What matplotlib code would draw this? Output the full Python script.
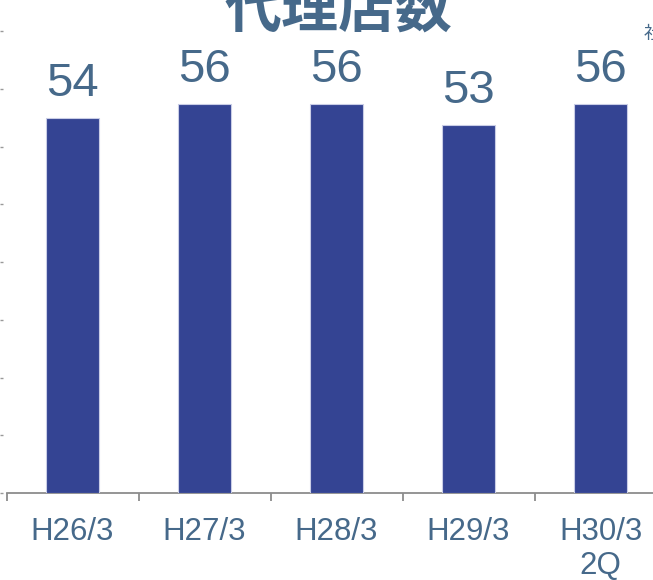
import matplotlib.pyplot as plt
import numpy as np

# data
categories = ["H26/3", "H27/3", "H28/3", "H29/3", "H30/3\n2Q"]
agencies = [54, 56, 56, 53, 56]
title = "代理店数"

bar_color = "#344493"
text_color = "#46698a"
axis_gray = "#8c8c8c"

fig = plt.figure(figsize=(6.53, 5.80), dpi=100)
ax = fig.add_axes([0, 87 / 580, 1, 493 / 580])

x = np.arange(len(categories))
ax.bar(x, agencies, width=0.40, color=bar_color, edgecolor="#c9cde6", linewidth=0.8, zorder=3)

for xi, v in zip(x, agencies):
    ax.annotate(str(v), (xi, v), xytext=(0, 15.5), textcoords="offset points",
                ha="center", va="baseline", fontsize=34, color=text_color,
                family="Liberation Sans")

# category boundaries as major ticks, labels on minor ticks
ax.set_xticks(np.arange(len(categories) + 1) - 0.5)
ax.set_xticklabels([])
ax.set_xticks(x, minor=True)
ax.set_xticklabels(categories, minor=True, fontsize=22.5, color=text_color,
                   family="Liberation Sans", linespacing=1.18)
ax.tick_params(axis="x", which="major", direction="out", length=6, width=1.3, color=axis_gray)
ax.tick_params(axis="x", which="minor", length=0, pad=17)
ax.set_yticks([])

ax.set_xlim(-0.5 - 6.5 / 132, -0.5 + 646.5 / 132)
ax.set_ylim(0, 493 / 6.95)

for s in ["top", "right", "left"]:
    ax.spines[s].set_visible(False)
ax.spines["bottom"].set_color(axis_gray)
ax.spines["bottom"].set_linewidth(1.3)
ax.spines["bottom"].set_bounds(-0.5, 4.5)

# faint left ticks of the original value axis
ax2 = ax.twinx()
ax2.set_yticks(np.arange(0, 90, 10))
ax2.set_ylim(0, 85.4)
ax2.yaxis.set_ticks_position("left")
ax2.tick_params(axis="y", direction="in", length=1.8, width=1, color="#999999", labelleft=False)
for s in ax2.spines.values():
    s.set_visible(False)

fig.text(338 / 653, 1 - 27 / 580, title, ha="center", va="baseline", fontsize=41,
         fontweight="bold", color=text_color, family=["Noto Sans CJK JP", "DejaVu Sans"])
fig.text(644 / 653, 1 - 39 / 580, "社", ha="left", va="baseline", fontsize=13,
         color=text_color, family=["Noto Sans CJK JP", "DejaVu Sans"])

fig.savefig("out.png", dpi=100)
